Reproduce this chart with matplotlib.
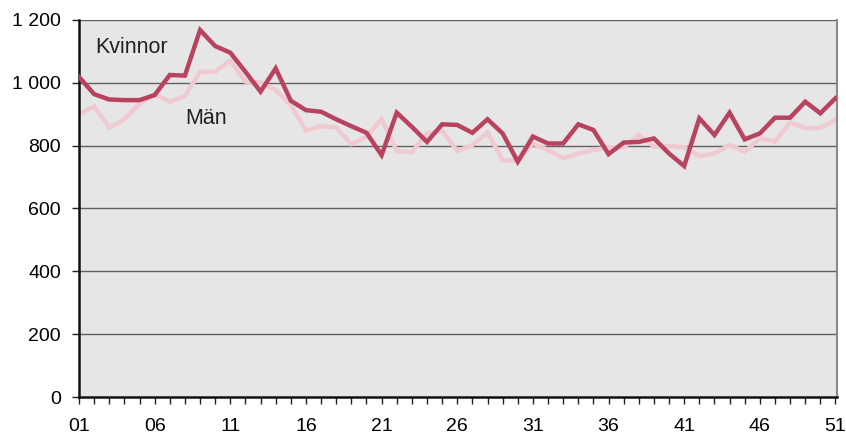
import matplotlib
matplotlib.use("Agg")
import matplotlib.pyplot as plt
from matplotlib.ticker import MultipleLocator, FixedLocator

weeks = list(range(1, 52))
kvinnor = [1019, 964, 947, 945, 945, 961, 1025, 1023, 1168, 1117,
           1096, 1035, 972, 1046, 943, 913, 908, 884, 862, 841,
           770, 905, 860, 812, 868, 866, 841, 884, 839, 749,
           829, 807, 807, 868, 850, 773, 810, 812, 823, 775,
           735, 887, 834, 905, 820, 839, 889, 889, 940, 903,
           951]
man = [901, 924, 858, 884, 934, 964, 940, 958, 1035, 1035,
       1071, 1004, 1001, 977, 929, 848, 862, 858, 805, 828,
       885, 783, 779, 839, 848, 783, 802, 842, 754, 752,
       807, 786, 760, 775, 786, 795, 795, 834, 797, 799,
       795, 767, 775, 802, 781, 823, 813, 874, 855, 857,
       882]
xtick_vals = [1, 6, 11, 16, 21, 26, 31, 36, 41, 46, 51]
xtick_labels = ["01", "06", "11", "16", "21", "26", "31", "36", "41", "46", "51"]
ytick_vals = [0, 200, 400, 600, 800, 1000, 1200]
ytick_labels = ["0", "200", "400", "600", "800", "1 000", "1 200"]

plt.rcParams['font.family'] = ['Liberation Sans', 'DejaVu Sans']

W, H = 846, 437
fig = plt.figure(figsize=(W / 100, H / 100), dpi=100)
ax = fig.add_axes([79 / W, 1 - 397 / H, (837 - 79) / W, (397 - 20) / H])
ax.set_facecolor("#e6e6e6")

for v in ytick_vals[1:]:
    ax.axhline(v, color="#606060", lw=1.0, zorder=1)

ax.plot(weeks, man, color="#f0c9d1", lw=3.2, zorder=2, solid_joinstyle="miter")
ax.plot(weeks, kvinnor, color="#b8435e", lw=3.2, zorder=3, solid_joinstyle="miter")

ax.set_xlim(1, 51.1)
ax.set_ylim(0, 1200)
ax.xaxis.set_major_locator(FixedLocator(xtick_vals))
ax.set_xticklabels(xtick_labels)
ax.xaxis.set_minor_locator(MultipleLocator(1))
ax.set_yticks(ytick_vals)
ax.set_yticklabels(ytick_labels)

ax.tick_params(axis="x", which="both", direction="out", length=5, width=1,
               color="#222222", labelsize=14, pad=10)
ax.tick_params(axis="y", which="both", direction="out", length=5, width=1,
               color="#222222", labelsize=14, pad=8)

ax.spines["left"].set_linewidth(1.8)
ax.spines["left"].set_color("#111111")
ax.spines["bottom"].set_linewidth(1.8)
ax.spines["bottom"].set_color("#111111")
ax.spines["top"].set_visible(False)
ax.spines["right"].set_color("#8a8a8a")
ax.spines["right"].set_linewidth(1.5)

ax.text(2.05, 1114, "Kvinnor", fontsize=15.5, color="#222222", va="center", ha="left")
ax.text(8.0, 888, "Män", fontsize=15.5, color="#222222", va="center", ha="left")

fig.savefig("out.png", dpi=100)
